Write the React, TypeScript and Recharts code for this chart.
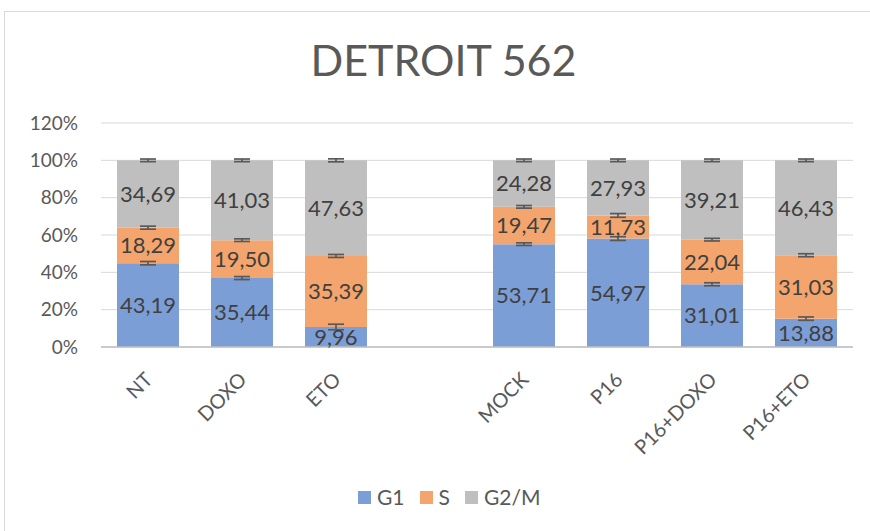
import { BarChart, Bar, XAxis, YAxis, CartesianGrid, ErrorBar, LabelList } from 'recharts';

const categories = ['NT', 'DOXO', 'ETO', '', 'MOCK', 'P16', 'P16+DOXO', 'P16+ETO'];
const g1Values = [43.19, 35.44, 9.96, null, 53.71, 54.97, 31.01, 13.88];
const sValues = [18.29, 19.5, 35.39, null, 19.47, 11.73, 22.04, 31.03];
const g2mValues = [34.69, 41.03, 47.63, null, 24.28, 27.93, 39.21, 46.43];
// error bar half-heights, in % of the bar
const g1Errors = [0.9, 0.8, 1.5, null, 0.7, 1.0, 0.8, 0.9];
const sErrors = [0.8, 0.7, 0.8, null, 0.7, 1.0, 0.7, 0.8];
const g2mErrors = [0.7, 0.7, 0.8, null, 0.7, 0.7, 0.7, 0.7];
const yTicks = [0, 20, 40, 60, 80, 100, 120];

const FONT = 'Lato, "Open Sans", sans-serif';
const COLORS = { g1: '#7C9ED7', s: '#F3A56D', g2m: '#BFBFBF' };

// 100% stacked: each segment as a share of the row total
const data = categories.map((name, i) => {
  const a = g1Values[i];
  const b = sValues[i];
  const c = g2mValues[i];
  if (a == null || b == null || c == null) {
    return { name, g1: null, s: null, g2m: null, g1Raw: null, sRaw: null, g2mRaw: null, g1Err: null, sErr: null, g2mErr: null };
  }
  const total = a + b + c;
  return {
    name,
    g1: (a / total) * 100,
    s: (b / total) * 100,
    g2m: (c / total) * 100,
    g1Raw: a,
    sRaw: b,
    g2mRaw: c,
    g1Err: g1Errors[i],
    sErr: sErrors[i],
    g2mErr: g2mErrors[i],
  };
});

const fmt = (v: any) => (v == null ? '' : Number(v).toFixed(2).replace('.', ','));

function XTick({ x, y, payload }: any) {
  return (
    <g transform={`translate(${x + 1},${y + 21})`}>
      <text transform="rotate(-45)" textAnchor="end" dy="0.35em" fill="#595959" fontSize={20} fontFamily={FONT}>
        {payload.value}
      </text>
    </g>
  );
}

const labelStyle = { fill: '#404040', fontSize: 22, fontFamily: FONT };

export default function App() {
  return (
    <div style={{ position: 'absolute', left: 0, top: 0, width: 870, height: 531, overflow: 'hidden', background: '#fff' }}>
      <div style={{ position: 'absolute', left: 4, top: 11, width: 900, height: 600, border: '1px solid #d9d9d9' }} />
      <div style={{ position: 'absolute', left: 0, top: 38, width: 887, textAlign: 'center', fontFamily: FONT, fontSize: 43, lineHeight: '44px', color: '#595959' }}>
        DETROIT 562
      </div>
      <div style={{ position: 'absolute', left: 0, top: 0 }}>
        <BarChart width={870} height={531} data={data} margin={{ top: 123, right: 17, left: 40, bottom: 154 }} barSize={62}>
          <CartesianGrid vertical={false} stroke="#d9d9d9" />
          <XAxis dataKey="name" interval={0} tickLine={false} axisLine={{ stroke: '#bfbfbf', strokeWidth: 1.5 }} tick={<XTick />} height={30} />
          <YAxis
            width={61}
            domain={[0, 120]}
            ticks={yTicks}
            tickFormatter={(v: number) => `${v}%`}
            axisLine={false}
            tickLine={false}
            tickSize={0}
            tickMargin={23}
            tick={{ fill: '#595959', fontSize: 19, fontFamily: FONT }}
          />
          <Bar dataKey="g1" stackId="a" fill={COLORS.g1} isAnimationActive={false}>
            <ErrorBar dataKey="g1Err" width={8} strokeWidth={1.7} stroke="#595959" direction="y" />
            <LabelList dataKey="g1Raw" position="center" formatter={fmt} style={labelStyle} />
          </Bar>
          <Bar dataKey="s" stackId="a" fill={COLORS.s} isAnimationActive={false}>
            <ErrorBar dataKey="sErr" width={8} strokeWidth={1.7} stroke="#595959" direction="y" />
            <LabelList dataKey="sRaw" position="center" formatter={fmt} style={labelStyle} />
          </Bar>
          <Bar dataKey="g2m" stackId="a" fill={COLORS.g2m} isAnimationActive={false}>
            <ErrorBar dataKey="g2mErr" width={8} strokeWidth={1.7} stroke="#595959" direction="y" />
            <LabelList dataKey="g2mRaw" position="center" formatter={fmt} style={labelStyle} />
          </Bar>
        </BarChart>
      </div>
      <div style={{ position: 'absolute', left: 358, top: 484, display: 'flex', alignItems: 'center', fontFamily: FONT, fontSize: 21, color: '#595959', lineHeight: '26px' }}>
        {[
          { label: 'G1', color: COLORS.g1 },
          { label: 'S', color: COLORS.s },
          { label: 'G2/M', color: COLORS.g2m },
        ].map((item) => (
          <div key={item.label} style={{ display: 'flex', alignItems: 'center', marginRight: 15 }}>
            <span style={{ display: 'inline-block', width: 13, height: 13, background: item.color, marginRight: 6 }} />
            <span>{item.label}</span>
          </div>
        ))}
      </div>
    </div>
  );
}
